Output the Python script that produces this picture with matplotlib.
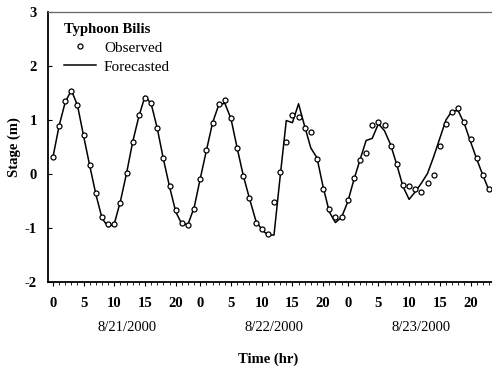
import numpy as np
import matplotlib.pyplot as plt
from matplotlib.ticker import MultipleLocator, FixedLocator

# hourly time index, 0 = 8/21/2000 00:00
hours = np.arange(72)

observed = [0.31, 0.89, 1.35, 1.54, 1.28, 0.72, 0.17, -0.36, -0.80, -0.93,
            -0.93, -0.53, 0.02, 0.60, 1.09, 1.40, 1.32, 0.86, 0.29, -0.22,
            -0.67, -0.91, -0.94, -0.64, -0.10, 0.44, 0.95, 1.30, 1.37, 1.04,
            0.49, -0.03, -0.45, -0.91, -1.01, -1.11, -0.52, 0.03, 0.59, 1.09,
            1.05, 0.85, 0.77, 0.28, -0.27, -0.64, -0.79, -0.79, -0.48, -0.07,
            0.26, 0.39, 0.91, 0.96, 0.90, 0.52, 0.18, -0.20, -0.23, -0.27,
            -0.33, -0.16, -0.01, 0.52, 0.93, 1.15, 1.22, 0.96, 0.64, 0.30,
            -0.01, -0.27]

forecast = [0.31, 0.89, 1.33, 1.55, 1.27, 0.70, 0.15, -0.38, -0.82, -0.98,
            -0.92, -0.50, 0.02, 0.60, 1.07, 1.44, 1.30, 0.84, 0.27, -0.24,
            -0.70, -0.93, -0.93, -0.62, -0.08, 0.44, 0.95, 1.28, 1.31, 1.02,
            0.48, -0.03, -0.45, -0.85, -1.03, -1.13, -1.13, -0.05, 0.99, 0.95,
            1.30, 0.88, 0.48, 0.30, -0.24, -0.70, -0.90, -0.80, -0.52, -0.11,
            0.26, 0.62, 0.66, 0.93, 0.80, 0.54, 0.17, -0.23, -0.47, -0.33,
            -0.17, 0.01, 0.32, 0.66, 1.00, 1.17, 1.17, 0.93, 0.60, 0.28,
            -0.02, -0.30]

tick_hours = [0, 5, 10, 15, 20, 24, 29, 34, 39, 44, 48, 53, 58, 63, 68]
tick_labels = ['0', '5', '10', '15', '20', '0', '5', '10', '15', '20',
               '0', '5', '10', '15', '20']
dates = ['8/21/2000', '8/22/2000', '8/23/2000']
date_centers = [12, 36, 60]

plt.rcParams['font.family'] = ['Liberation Serif', 'DejaVu Serif']

fig = plt.figure(figsize=(4.92, 3.69), dpi=100)
ax = fig.add_axes([0.0976, 0.2358, 0.9024, 0.7317])

ax.plot(hours, forecast, color='black', lw=1.1, label='Forecasted')
ax.plot(hours, observed, 'o', ms=3.6, mfc='white', mec='black', mew=0.9,
        label='Observed')

ax.set_xlim(-0.8, 71.5)
ax.set_ylim(-2, 3)

ax.xaxis.set_major_locator(FixedLocator(tick_hours))
ax.set_xticklabels(tick_labels, fontsize=10.5, fontweight='bold')
ax.xaxis.set_minor_locator(MultipleLocator(1))
ax.tick_params(axis='x', which='major', direction='out', length=3, width=0.8, pad=8)
ax.tick_params(axis='x', which='minor', direction='out', length=2, width=0.6)

ax.set_yticks([-2, -1, 0, 1, 2, 3])
ax.set_yticklabels(['-2', '-1', '0', '1', '2', '3'], fontsize=10.5, fontweight='bold')
ax.tick_params(axis='y', direction='in', length=3, width=0.8, pad=8)

for d, c in zip(dates, date_centers):
    ax.text(c, -0.168, d, transform=ax.get_xaxis_transform(), ha='center',
            va='center', fontsize=10.5)

ax.text(0.496, -0.285, 'Time (hr)', transform=ax.transAxes, ha='center',
        va='center', fontsize=10.5, fontweight='bold')
ax.set_ylabel('Stage (m)', fontsize=10.5, fontweight='bold', labelpad=3)

ax.spines['right'].set_visible(False)
ax.spines['left'].set_linewidth(1.3)
ax.spines['bottom'].set_linewidth(1.3)
ax.spines['top'].set_linewidth(0.9)
ax.spines['top'].set_color('#666666')

handles, labels = ax.get_legend_handles_labels()
leg = ax.legend(handles[::-1], labels[::-1], title='Typhoon Bilis', loc='upper left',
                bbox_to_anchor=(0.016, 0.995), frameon=False, fontsize=11,
                title_fontproperties={'size': 10.5, 'weight': 'bold'},
                handlelength=2.1, handletextpad=0.5,
                labelspacing=0.35, borderaxespad=0.2)
leg._legend_box.align = 'left'

fig.savefig('out.png', dpi=100)
